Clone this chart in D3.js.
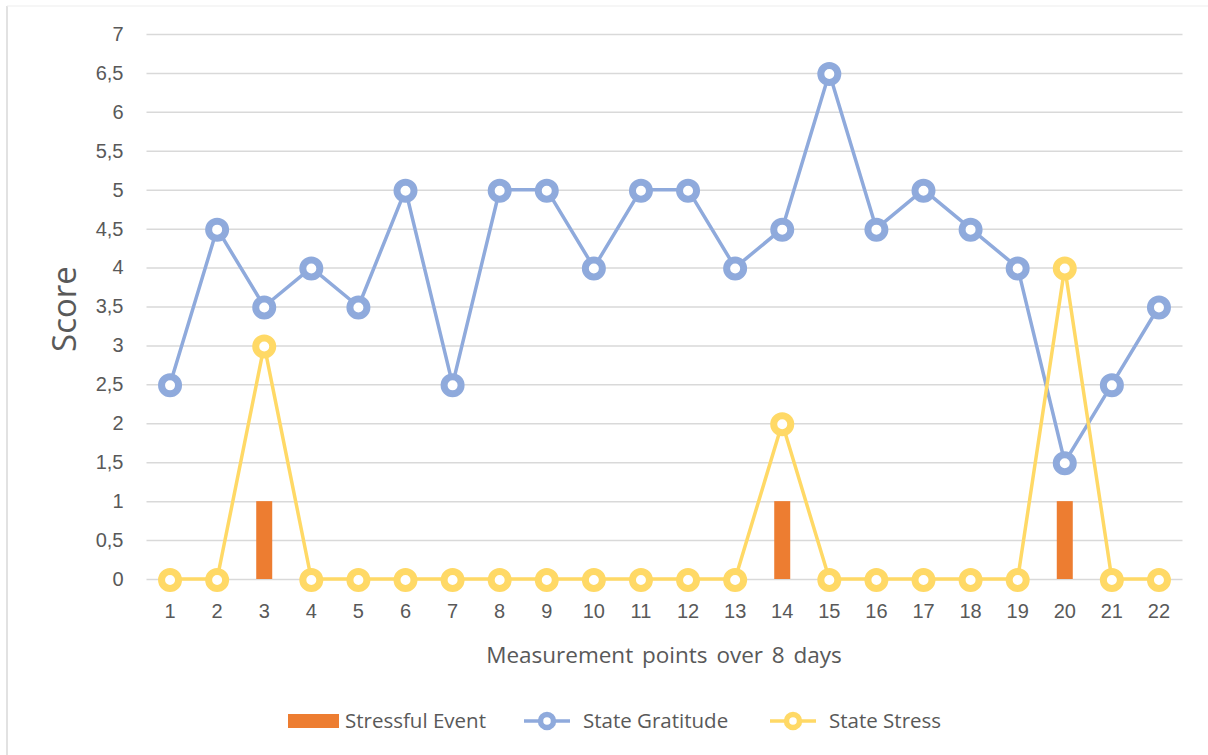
<!DOCTYPE html>
<html>
<head>
<meta charset="utf-8">
<script src="https://cdn.jsdelivr.net/npm/d3@7"></script>
<style>
  html, body { margin: 0; padding: 0; background: #fff; }
  svg { display: block; font-family: "Open Sans", Lato, sans-serif; }
</style>
</head>
<body>
<svg id="chart" width="1208" height="755"></svg>
<script>
// Measurement points (x categories)
const points = ["1","2","3","4","5","6","7","8","9","10","11","12","13","14","15","16","17","18","19","20","21","22"];
// Stressful event indicator (bars)
const stressfulEvent = [0,0,1,0,0,0,0,0,0,0,0,0,0,1,0,0,0,0,0,1,0,0];
// State gratitude scores
const stateGratitude = [2.5,4.5,3.5,4,3.5,5,2.5,5,5,4,5,5,4,4.5,6.5,4.5,5,4.5,4,1.5,2.5,3.5];
// State stress scores
const stateStress = [0,0,3,0,0,0,0,0,0,0,0,0,0,2,0,0,0,0,0,4,0,0];
// Y axis ticks
const yTicks = [0,0.5,1,1.5,2,2.5,3,3.5,4,4.5,5,5.5,6,6.5,7];

const colors = { event: "#ED7D31", gratitude: "#8FAADC", stress: "#FFD966", grid: "#D9D9D9", text: "#595959" };

const svg = d3.select("#chart");
const margin = { left: 146.5, right: 1182.5, top: 34, bottom: 579 };

const x = d3.scaleBand().domain(points).range([margin.left, margin.right]).padding(0);
const y = d3.scaleLinear().domain([0, 7]).range([margin.bottom, margin.top]);
const cx = d => x(d) + x.bandwidth() / 2;

// Chart frame edges
svg.append("line").attr("x1", 7).attr("x2", 7).attr("y1", 6).attr("y2", 755)
  .attr("stroke", "#D9D9D9").attr("stroke-width", 1.5);
svg.append("line").attr("x1", 7).attr("x2", 1208).attr("y1", 6).attr("y2", 6)
  .attr("stroke", "#EDEDED").attr("stroke-width", 1);

// Gridlines + y tick labels
const yAxis = d3.axisLeft(y).tickValues(yTicks)
  .tickFormat(d => String(d).replace(".", ","))
  .tickSize(-(margin.right - margin.left)).tickPadding(23);
const gy = svg.append("g").attr("transform", `translate(${margin.left},0)`).call(yAxis);
gy.select(".domain").remove();
gy.selectAll(".tick line").attr("stroke", colors.grid).attr("stroke-width", 1.5);
gy.selectAll(".tick text").attr("fill", colors.text).attr("font-size", 20);

// X tick labels
const xAxis = d3.axisBottom(x).tickSize(0).tickPadding(25);
const gx = svg.append("g").attr("transform", `translate(0,${margin.bottom})`).call(xAxis);
gx.select(".domain").remove();
gx.selectAll(".tick text").attr("fill", colors.text).attr("font-size", 20);

// Axis titles
svg.append("text").attr("x", 664).attr("y", 663).attr("text-anchor", "middle")
  .attr("fill", colors.text).attr("font-size", 22.5).attr("word-spacing", 3).text("Measurement points over 8 days");
svg.append("text").attr("transform", "translate(76,309) rotate(-90)").attr("text-anchor", "middle")
  .attr("fill", colors.text).attr("font-size", 33).text("Score");

// Bars: stressful event
const barW = 16;
svg.append("g").selectAll("rect").data(points).join("rect")
  .attr("x", d => cx(d) - barW / 2)
  .attr("width", barW)
  .attr("y", (d, i) => y(stressfulEvent[i]))
  .attr("height", (d, i) => y(0) - y(stressfulEvent[i]))
  .attr("fill", colors.event);

// Line series with ring markers
function drawSeries(values, color) {
  const line = d3.line().x((d, i) => cx(points[i])).y(d => y(d));
  svg.append("path").datum(values).attr("d", line)
    .attr("fill", "none").attr("stroke", color).attr("stroke-width", 3.5)
    .attr("stroke-linejoin", "round");
  svg.append("g").selectAll("circle").data(values).join("circle")
    .attr("cx", (d, i) => cx(points[i])).attr("cy", d => y(d) + 1)
    .attr("r", 8.5).attr("fill", "#fff").attr("stroke", color).attr("stroke-width", 7);
}
drawSeries(stateGratitude, colors.gratitude);
drawSeries(stateStress, colors.stress);

// Legend
const lg = svg.append("g").attr("font-size", 20.5).attr("fill", colors.text);
const ly = 721;
lg.append("rect").attr("x", 288).attr("y", ly - 7).attr("width", 51).attr("height", 14).attr("fill", colors.event);
lg.append("text").attr("x", 345).attr("y", ly).attr("dy", "0.35em").attr("fill", colors.text).text("Stressful Event");
[[524, colors.gratitude, "State Gratitude"], [770, colors.stress, "State Stress"]].forEach(([lx, c, label]) => {
  lg.append("line").attr("x1", lx).attr("x2", lx + 46).attr("y1", ly).attr("y2", ly)
    .attr("stroke", c).attr("stroke-width", 3.5);
  lg.append("circle").attr("cx", lx + 23).attr("cy", ly).attr("r", 6.5)
    .attr("fill", "#fff").attr("stroke", c).attr("stroke-width", 5.5);
  lg.append("text").attr("x", lx + 59).attr("y", ly).attr("dy", "0.35em").attr("fill", colors.text).text(label);
});
</script>
</body>
</html>
